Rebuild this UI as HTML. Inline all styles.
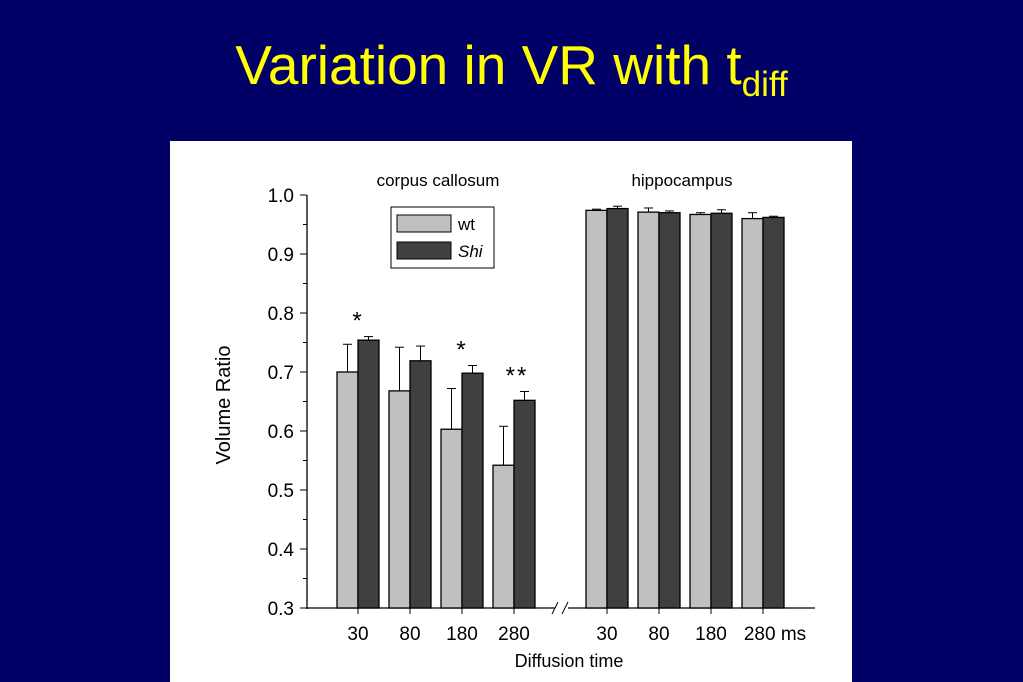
<!DOCTYPE html>
<html><head><meta charset="utf-8"><style>
body{margin:0;width:1023px;height:682px;background:#000066;overflow:hidden;font-family:"Liberation Sans",sans-serif}
#title{position:absolute;left:0;width:1023px;top:33px;text-align:center;color:#ffff00;font-size:55px}
#title sub{font-size:35px;vertical-align:-12px}
#panel{position:absolute;left:170px;top:141px;width:682px;height:541px;background:#fff}
</style></head><body>
<div id="title">Variation in VR with t<sub>diff</sub></div>
<div id="panel"></div>
<svg id="chart" width="1023" height="682" style="position:absolute;left:0;top:0" font-family="Liberation Sans, sans-serif"></svg>
<script>
const categories=["30","80","180","280"];
const ccWt=[0.700,0.668,0.603,0.542];
const ccWtErr=[0.047,0.074,0.069,0.066];
const ccShi=[0.754,0.719,0.698,0.652];
const ccShiErr=[0.006,0.025,0.013,0.015];
const hcWt=[0.974,0.971,0.967,0.960];
const hcWtErr=[0.002,0.007,0.003,0.010];
const hcShi=[0.977,0.970,0.969,0.962];
const hcShiErr=[0.004,0.003,0.006,0.002];
const stars=["*","","*","**"];
const yTicks=[0.3,0.4,0.5,0.6,0.7,0.8,0.9,1.0];
const svg=document.getElementById('chart');
const NS='http://www.w3.org/2000/svg';
function y(v){return 608-(v-0.3)*590;}
function mk(t,a,txt){const e=document.createElementNS(NS,t);for(const k in a)e.setAttribute(k,a[k]);if(txt!==undefined)e.textContent=txt;svg.appendChild(e);return e;}
const leftX=i=>358+i*52, rightX=i=>607+i*52;
let e=mk('line',{x1:307,y1:195,x2:307,y2:609,stroke:'#000','stroke-width':1.3});

e=mk('line',{x1:307,y1:608,x2:555,y2:608,stroke:'#000','stroke-width':1.3});

e=mk('line',{x1:568,y1:608,x2:815,y2:608,stroke:'#000','stroke-width':1.3});

mk('line',{x1:552,y1:614,x2:558,y2:602,stroke:'#000'});
mk('line',{x1:562,y1:614,x2:568,y2:602,stroke:'#000'});
yTicks.forEach(v=>{mk('line',{x1:300,y1:y(v),x2:307,y2:y(v),stroke:'#000'});
 const t=mk('text',{x:294,y:y(v)+7,'text-anchor':'end','font-size':19},v.toFixed(1));
 
 if(v<1)mk('line',{x1:303,y1:y(v+0.05),x2:307,y2:y(v+0.05),stroke:'#000'});});
function bar(cx,v,err,fill,name){
 const r=mk('rect',{x:cx,y:y(v),width:21,height:608-y(v),fill:fill,stroke:'#000','stroke-width':1.3});
 
 mk('line',{x1:cx+10.5,y1:y(v),x2:cx+10.5,y2:y(v+err),stroke:'#000'});
 mk('line',{x1:cx+6,y1:y(v+err),x2:cx+15,y2:y(v+err),stroke:'#000'});}
categories.forEach((c,i)=>{
 bar(leftX(i)-21,ccWt[i],ccWtErr[i],'#c0c0c0','bar-cc-wt-'+c);
 bar(leftX(i),ccShi[i],ccShiErr[i],'#404040','bar-cc-shi-'+c);
 bar(rightX(i)-21,hcWt[i],hcWtErr[i],'#c0c0c0','bar-hc-wt-'+c);
 bar(rightX(i),hcShi[i],hcShiErr[i],'#404040','bar-hc-shi-'+c);
 mk('line',{x1:leftX(i),y1:608,x2:leftX(i),y2:614,stroke:'#000'});
 mk('line',{x1:rightX(i),y1:608,x2:rightX(i),y2:614,stroke:'#000'});
 let t=mk('text',{x:leftX(i),y:640,'text-anchor':'middle','font-size':19},c);
 
 t=mk('text',{x:rightX(i)-(i==3?-12:0),y:640,'text-anchor':'middle','font-size':19},c+(i==3?' ms':''));
 
 if(stars[i]){t=mk('text',{x:leftX(i)+(i==3?3:0),y:y(Math.max(ccWt[i]+ccWtErr[i],ccShi[i]+ccShiErr[i]))-8,'text-anchor':'middle','font-size':24,'letter-spacing':2},stars[i]);
 }
});
let t=mk('text',{x:438,y:186,'text-anchor':'middle','font-size':17},'corpus callosum');

t=mk('text',{x:682,y:186,'text-anchor':'middle','font-size':17},'hippocampus');

t=mk('text',{x:569,y:667,'text-anchor':'middle','font-size':18},'Diffusion time');

t=mk('text',{x:0,y:0,'text-anchor':'middle','font-size':20,transform:'translate(230,405) rotate(-90)'},'Volume Ratio');

const lg=mk('rect',{x:391,y:207,width:103,height:61,fill:'#fff',stroke:'#000'});

mk('rect',{x:397,y:215,width:54,height:17,fill:'#c0c0c0',stroke:'#000'});
mk('rect',{x:397,y:242,width:54,height:17,fill:'#404040',stroke:'#000'});
t=mk('text',{x:458,y:230,'font-size':17},'wt');
t=mk('text',{x:458,y:257,'font-size':17,'font-style':'italic'},'Shi');
</script>
</body></html>
